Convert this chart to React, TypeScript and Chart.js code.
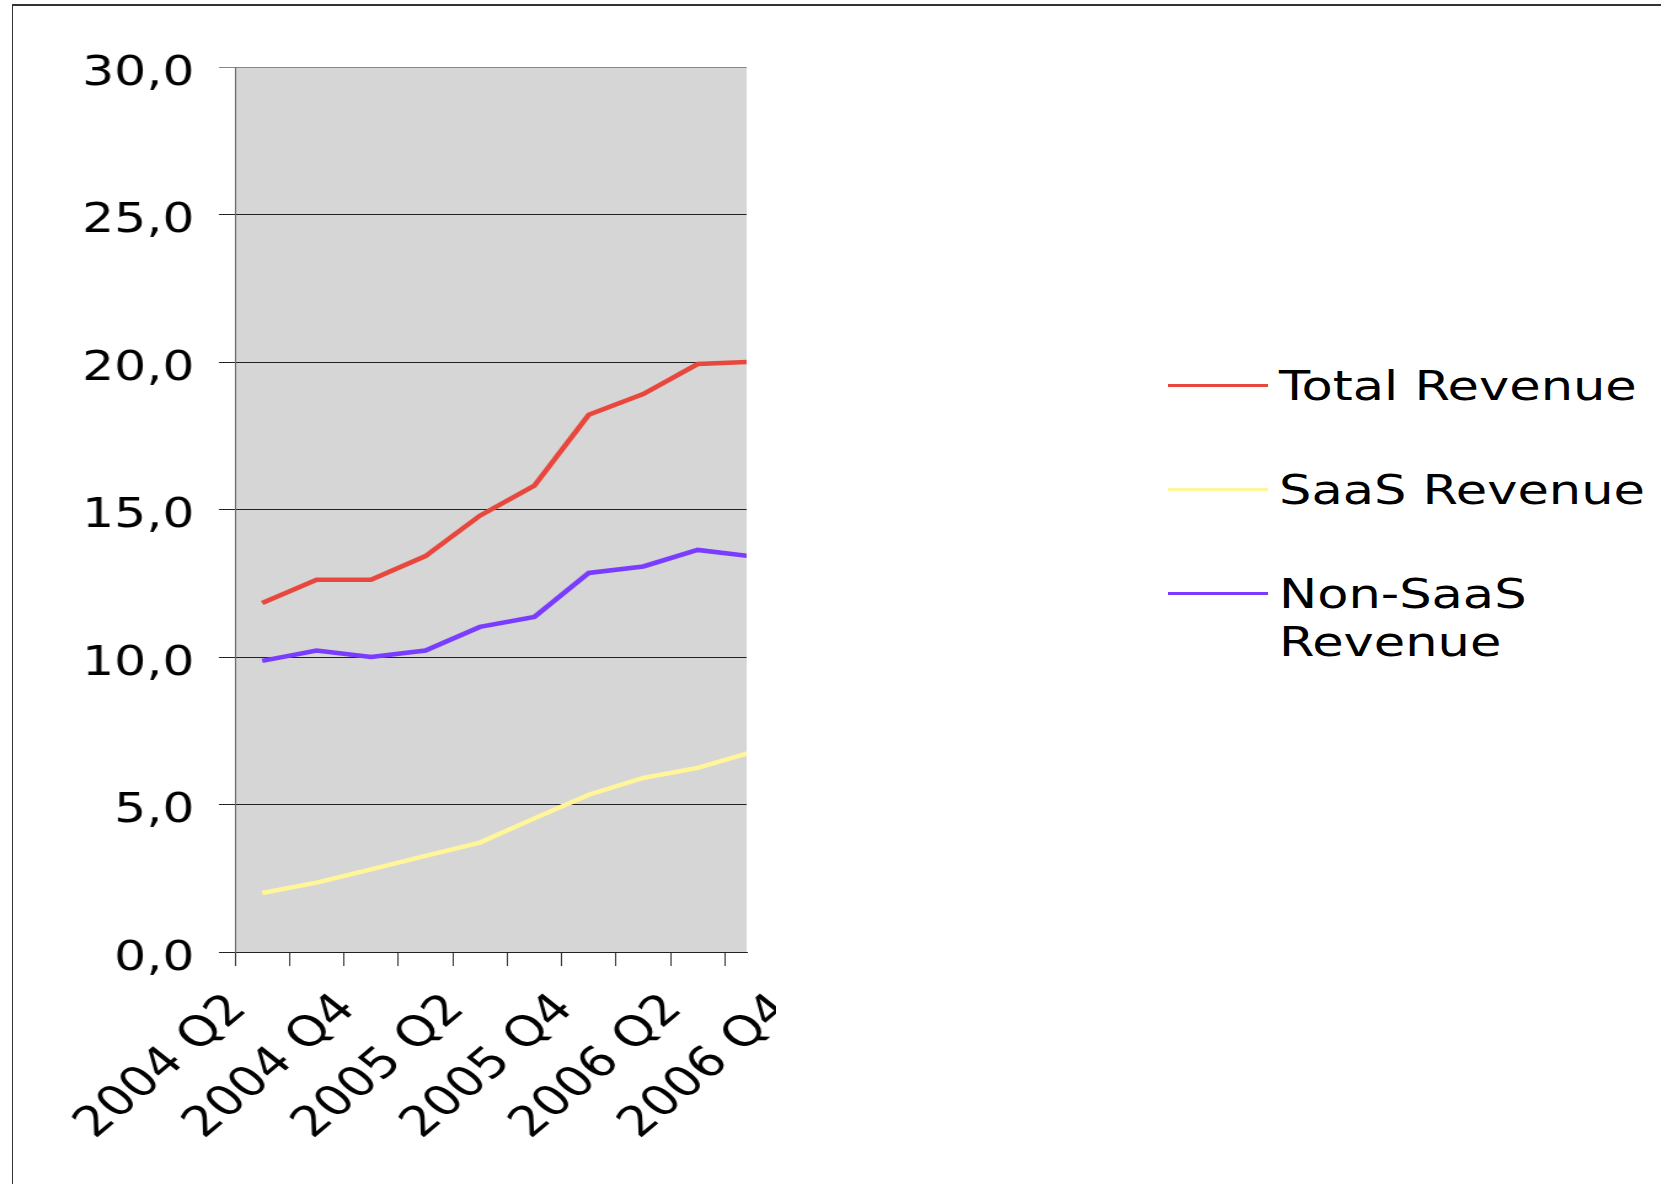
import React, { useEffect, useRef } from "react";
import { Chart, registerables } from "chart.js";

Chart.register(...registerables);

// ---- data ----
const quarters = [
  "2004 Q2", "2004 Q3", "2004 Q4", "2005 Q1", "2005 Q2", "2005 Q3",
  "2005 Q4", "2006 Q1", "2006 Q2", "2006 Q3", "2006 Q4",
];
const totalRevenue = [11.83, 12.62, 12.62, 13.42, 14.79, 15.81, 18.21, 18.91, 19.93, 20.01];
const saasRevenue = [2.0, 2.35, 2.8, 3.26, 3.71, 4.53, 5.33, 5.9, 6.24, 6.78];
const nonSaasRevenue = [9.87, 10.22, 10.0, 10.22, 11.02, 11.36, 12.85, 13.07, 13.63, 13.41];
const seriesNames = ["Total Revenue", "SaaS Revenue", "Non-SaaS Revenue"];
const seriesColors = ["#e8473d", "#fff59a", "#7a3dff"];
const yMin = 0;
const yMax = 30;
const yStep = 5;

// ---- layout ----
const STRETCH = 1.23;
const CANVAS_W = 631;
const CANVAS_H = 1184;
const FONT = "DejaVu Sans";

const plotBg = {
  id: "plotBg",
  beforeDraw(chart: any) {
    const { ctx, chartArea } = chart;
    if (!chartArea) return;
    ctx.save();
    ctx.fillStyle = "#d6d6d6";
    ctx.fillRect(chartArea.left, chartArea.top, chartArea.right - chartArea.left, chartArea.bottom - chartArea.top);
    ctx.restore();
  },
};

export default function App() {
  const ref = useRef<HTMLCanvasElement>(null);

  useEffect(() => {
    const canvas = ref.current;
    if (!canvas) return;
    const series = [totalRevenue, saasRevenue, nonSaasRevenue];
    const chart = new Chart(canvas, {
      type: "line",
      data: {
        datasets: series.map((vals, si) => ({
          label: seriesNames[si],
          data: vals.map((v, i) => ({ x: i, y: v })),
          borderColor: seriesColors[si],
          backgroundColor: seriesColors[si],
          borderWidth: 4.5,
          pointRadius: 0,
          tension: 0,
          clip: 0,
        })),
      },
      options: {
        responsive: false,
        animation: false,
        devicePixelRatio: 1,
        layout: { padding: { top: 67, right: 24, bottom: 0, left: 0 } },
        plugins: { legend: { display: false }, tooltip: { enabled: false } },
        scales: {
          x: {
            type: "linear",
            min: -0.5,
            max: 8.9,
            afterBuildTicks: (scale: any) => {
              scale.ticks = quarters.map((_, i) => ({ value: i }));
            },
            afterFit: (scale: any) => {
              scale.height = 232;
              scale.paddingLeft = 0;
              scale.paddingRight = 0;
            },
            grid: {
              display: true,
              drawOnChartArea: false,
              drawTicks: true,
              tickLength: 14,
              offset: true,
              color: "#333",
            },
            border: { display: true, color: "#222", width: 1 },
            ticks: {
              autoSkip: false,
              maxRotation: 46,
              minRotation: 46,
              padding: 19,
              labelOffset: -19,
              color: "#000",
              font: { family: FONT, size: 42 },
              callback: (_v: any, i: number) => (i % 2 === 0 ? quarters[i] : ""),
            },
          },
          y: {
            type: "linear",
            min: yMin,
            max: yMax,
            afterFit: (scale: any) => {
              scale.width = 191;
              scale.paddingTop = 0;
              scale.paddingBottom = 0;
            },
            grid: {
              color: (c: any) => (c.tick && c.tick.value === yMax ? "#888" : "#222"),
              tickLength: 13,
              drawTicks: true,
            },
            border: { display: true, color: "#666", width: 1 },
            ticks: {
              stepSize: yStep,
              padding: 20,
              labelOffset: 7,
              color: "#000",
              font: { family: FONT, size: 41 },
              callback: (v: any) => Number(v).toFixed(1).replace(".", ","),
            },
          },
        },
      },
      plugins: [plotBg],
    } as any);
    return () => chart.destroy();
  }, []);

  const legendTop = 361.5;
  const legendGap = 104;

  return (
    <div
      style={{
        position: "absolute",
        left: 0,
        top: 0,
        width: 1661,
        height: 1184,
        overflow: "hidden",
        background: "#fff",
      }}
    >
      <div
        style={{
          position: "absolute",
          left: 12,
          top: 4,
          right: 0,
          bottom: 0,
          borderTop: "2px solid #333",
          borderLeft: "1px solid #333",
        }}
      />
      <canvas
        ref={ref}
        width={CANVAS_W}
        height={CANVAS_H}
        style={{
          position: "absolute",
          left: 0,
          top: 0,
          width: CANVAS_W,
          height: CANVAS_H,
          transform: `scaleX(${STRETCH})`,
          transformOrigin: "0 0",
        }}
      />
      {seriesNames.map((name, i) => (
        <React.Fragment key={name}>
          <div
            style={{
              position: "absolute",
              left: 1168,
              top: legendTop + i * legendGap + 23.5 - 1.5,
              width: 100,
              height: 3,
              background: seriesColors[i],
            }}
          />
          <div
            style={{
              position: "absolute",
              left: 1279,
              top: legendTop + i * legendGap,
              width: 310,
              fontFamily: FONT,
              fontSize: 41,
              lineHeight: "48.7px",
              color: "#000",
              transform: `scaleX(1.245)`,
              transformOrigin: "0 0",
            }}
          >
            {name}
          </div>
        </React.Fragment>
      ))}
    </div>
  );
}
